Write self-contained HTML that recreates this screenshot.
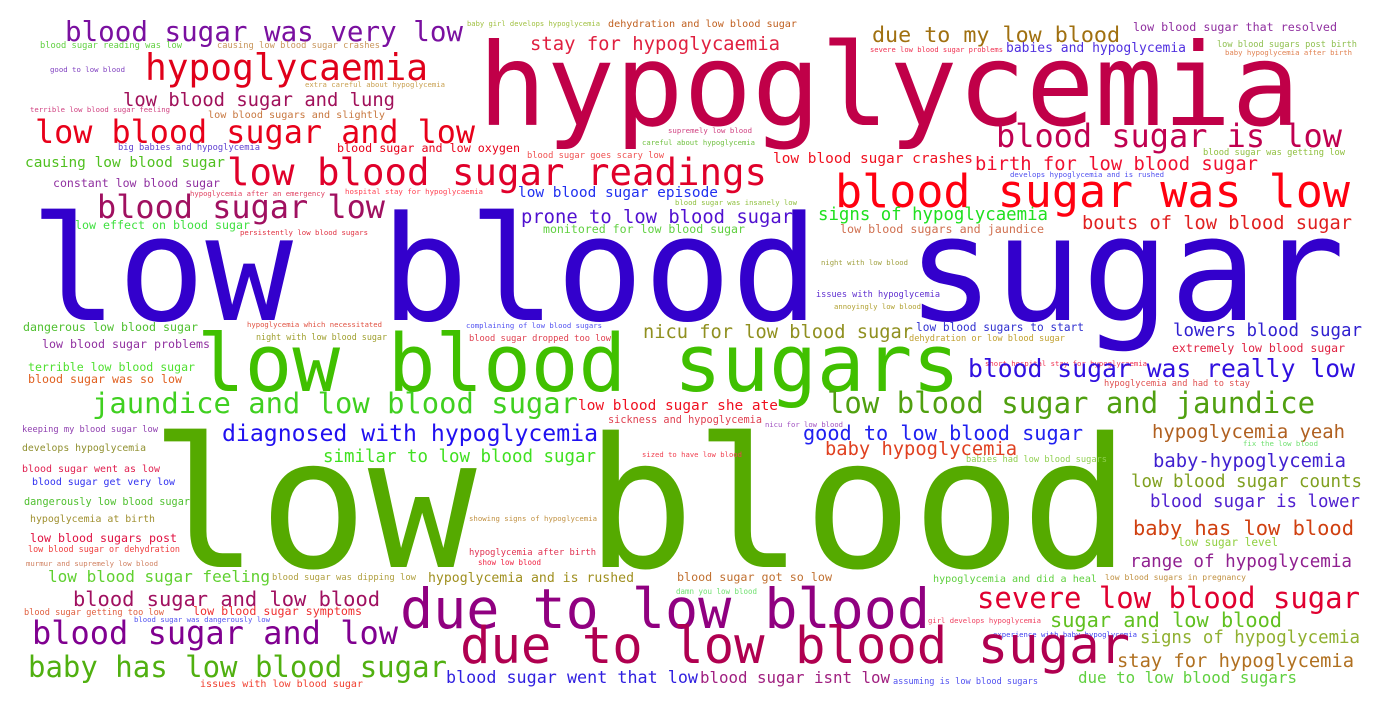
<!DOCTYPE html>
<html><head><meta charset="utf-8"><style>
html,body{margin:0;padding:0;background:#fff;}
svg{display:block;}
text{font-family:"DejaVu Sans Mono","Liberation Mono",monospace;}
</style></head><body>
<svg id="cloud" width="1386" height="713" viewBox="0 0 1386 713" xmlns="http://www.w3.org/2000/svg">
<rect width="1386" height="713" fill="#fff"/>
</svg>
<script>
const words = [
["low blood sugar",30,1345,320,"#3300cc"],
["low blood",150,1130,567,"#55aa00"],
["hypoglycemia",478,1300,125,"#c00048"],
["low blood sugars",197,960,391,"#40c000"],
["blood sugar was very low",65,463,41,"#7a10a0"],
["blood sugar reading was low",40,182,48,"#60d040"],
["causing low blood sugar crashes",217,380,48,"#c8955a"],
["good to low blood",50,125,72,"#8040c0"],
["hypoglycaemia",145,428,80,"#e0001a"],
["extra careful about hypoglycemia",305,445,87,"#c8a050"],
["low blood sugar and lung",123,395,106,"#a0105a"],
["terrible low blood sugar feeling",30,170,112,"#d04080"],
["low blood sugars and slightly",208,385,118,"#c87840"],
["low blood sugar and low",35,475,143,"#e8001a"],
["big babies and hypoglycemia",118,260,150,"#6040d0"],
["blood sugar and low oxygen",337,520,152,"#e8001a"],
["causing low blood sugar",25,225,167,"#50c020"],
["low blood sugar readings",227,767,185,"#e0002a"],
["constant low blood sugar",53,220,187,"#9030a0"],
["hypoglycemia after an emergency",190,325,196,"#e04060"],
["hospital stay for hypoglycaemia",345,483,194,"#ff4050"],
["blood sugar low",97,385,218,"#a01060"],
["low effect on blood sugar",75,250,229,"#40e040"],
["persistently low blood sugars",240,368,235,"#e03040"],
["baby girl develops hypoglycemia",467,600,26,"#a0c040"],
["dehydration and low blood sugar",608,797,27,"#c06020"],
["stay for hypoglycaemia",530,780,50,"#e02040"],
["supremely low blood",668,752,133,"#d04080"],
["careful about hypoglycemia",642,755,145,"#70c040"],
["blood sugar goes scary low",527,664,158,"#f05050"],
["low blood sugar crashes",773,973,163,"#f01020"],
["low blood sugar episode",518,718,197,"#2030f0"],
["blood sugar was insanely low",675,797,205,"#90c040"],
["prone to low blood sugar",521,793,223,"#5010d0"],
["monitored for low blood sugar",543,745,233,"#60d040"],
["blood sugar was low",835,1350,207,"#ff0010"],
["signs of hypoglycaemia",818,1048,220,"#20e020"],
["low blood sugars and jaundice",840,1044,233,"#d07050"],
["bouts of low blood sugar",1082,1352,229,"#e02020"],
["night with low blood",821,908,265,"#a0a040"],
["issues with hypoglycemia",816,940,297,"#6030d0"],
["annoyingly low blood",834,921,309,"#b0a030"],
["complaining of low blood sugars",466,602,328,"#5050f0"],
["blood sugar dropped too low",469,611,341,"#e04050"],
["nicu for low blood sugar",643,913,338,"#909020"],
["dehydration or low blood sugar",909,1065,341,"#c0a030"],
["low blood sugars to start",916,1084,331,"#3030d0"],
["due to my low blood",872,1120,42,"#a07010"],
["low blood sugar that resolved",1133,1337,31,"#9030a0"],
["severe low blood sugar problems",870,1003,52,"#f03050"],
["babies and hypoglycemia",1006,1186,52,"#5030e0"],
["low blood sugars post birth",1217,1357,47,"#90c050"],
["baby hypoglycemia after birth",1225,1352,55,"#e08050"],
["blood sugar is low",996,1342,147,"#c00050"],
["birth for low blood sugar",975,1258,170,"#f01030"],
["blood sugar was getting low",1203,1345,155,"#90c040"],
["develops hypoglycemia and is rushed",1010,1164,177,"#5050f0"],
["lowers blood sugar",1173,1362,336,"#3020d0"],
["extremely low blood sugar",1172,1345,352,"#e02040"],
["short hospital stay for hypoglycaemia",985,1147,366,"#f03050"],
["blood sugar was really low",968,1355,377,"#3010e0"],
["hypoglycemia and had to stay",1104,1250,386,"#e05050"],
["low blood sugar and jaundice",827,1315,413,"#50a010"],
["hypoglycemia yeah",1152,1345,438,"#b06020"],
["fix the low blood",1243,1318,446,"#70e070"],
["baby-hypoglycemia",1153,1346,467,"#4020d0"],
["low blood sugar counts",1131,1362,487,"#80a020"],
["blood sugar is lower",1150,1360,507,"#5020d0"],
["baby has low blood",1133,1354,535,"#d04010"],
["low sugar level",1178,1278,546,"#90d040"],
["range of hypoglycemia",1130,1352,567,"#902090"],
["low blood sugars in pregnancy",1105,1246,580,"#c09040"],
["severe low blood sugar",977,1360,608,"#e00030"],
["sugar and low blood",1050,1282,627,"#60c020"],
["signs of hypoglycemia",1140,1360,643,"#90b030"],
["stay for hypoglycemia",1117,1354,667,"#b07020"],
["due to low blood sugars",1078,1297,683,"#60d040"],
["experience with baby hypoglycemia",993,1137,637,"#4040f0"],
["low blood sugar she ate",578,778,410,"#f01020"],
["sickness and hypoglycemia",608,762,423,"#e04050"],
["nicu for low blood",765,843,427,"#a050c0"],
["good to low blood sugar",803,1083,440,"#2020f0"],
["baby hypoglycemia",825,1017,455,"#e04020"],
["sized to have low blood",642,742,457,"#f04050"],
["babies had low blood sugars",966,1107,462,"#90d050"],
["diagnosed with hypoglycemia",222,598,441,"#2010f0"],
["similar to low blood sugar",323,596,462,"#40e020"],
["keeping my blood sugar low",22,158,432,"#9040b0"],
["develops hypoglycemia",22,146,451,"#909030"],
["blood sugar went as low",22,160,472,"#e02050"],
["blood sugar get very low",32,175,485,"#3030f0"],
["dangerously low blood sugar",24,190,505,"#50c030"],
["hypoglycemia at birth",30,155,522,"#a09030"],
["showing signs of hypoglycemia",469,597,521,"#c09040"],
["low blood sugars post",30,177,542,"#e01040"],
["low blood sugar or dehydration",28,180,552,"#f04040"],
["hypoglycemia after birth",469,596,555,"#e03050"],
["show low blood",478,541,565,"#f02040"],
["murmur and supremely low blood",26,158,566,"#d08060"],
["low blood sugar feeling",48,270,582,"#60d030"],
["blood sugar was dipping low",272,416,580,"#b0a040"],
["hypoglycemia and is rushed",428,634,582,"#a09020"],
["blood sugar got so low",677,832,581,"#c07030"],
["hypoglycemia and did a heal",933,1097,582,"#60d040"],
["damn you low blood",676,757,594,"#70e070"],
["blood sugar and low blood",73,380,606,"#a01060"],
["blood sugar getting too low",24,164,615,"#e06040"],
["low blood sugar symptoms",193,362,615,"#f03030"],
["blood sugar was dangerously low",134,270,622,"#5050f0"],
["girl develops hypoglycemia",928,1041,623,"#f04060"],
["due to low blood",400,930,628,"#900080"],
["blood sugar and low",32,398,644,"#800090"],
["due to low blood sugar",460,1130,663,"#b00050"],
["baby has low blood sugar",28,447,677,"#50b010"],
["issues with low blood sugar",200,363,687,"#f04030"],
["blood sugar went that low",446,698,683,"#3020e0"],
["blood sugar isnt low",700,890,683,"#a02080"],
["assuming is low blood sugars",893,1038,684,"#5050f0"],
["dangerous low blood sugar",23,198,331,"#50c030"],
["hypoglycemia which necessitated",247,382,327,"#e05040"],
["night with low blood sugar",256,387,340,"#a0a030"],
["low blood sugar problems",42,210,348,"#9030a0"],
["terrible low blood sugar",28,195,371,"#50e030"],
["blood sugar was so low",28,182,383,"#e06020"],
["jaundice and low blood sugar",92,578,413,"#40d020"]
];
const svg = document.getElementById('cloud');
const NS = 'http://www.w3.org/2000/svg';
words.forEach(function(w){
  const t = document.createElementNS(NS,'text');
  const width = w[2]-w[1];
  const size = width/(w[0].length*0.602);
  t.setAttribute('x', w[1]);
  t.setAttribute('y', w[3]);
  t.setAttribute('font-size', size.toFixed(2));
  t.setAttribute('fill', w[4]);
  t.setAttribute('textLength', width);
  t.setAttribute('lengthAdjust', 'spacingAndGlyphs');
  
  
  t.textContent = w[0];
  svg.appendChild(t);
});
</script>
</body></html>
